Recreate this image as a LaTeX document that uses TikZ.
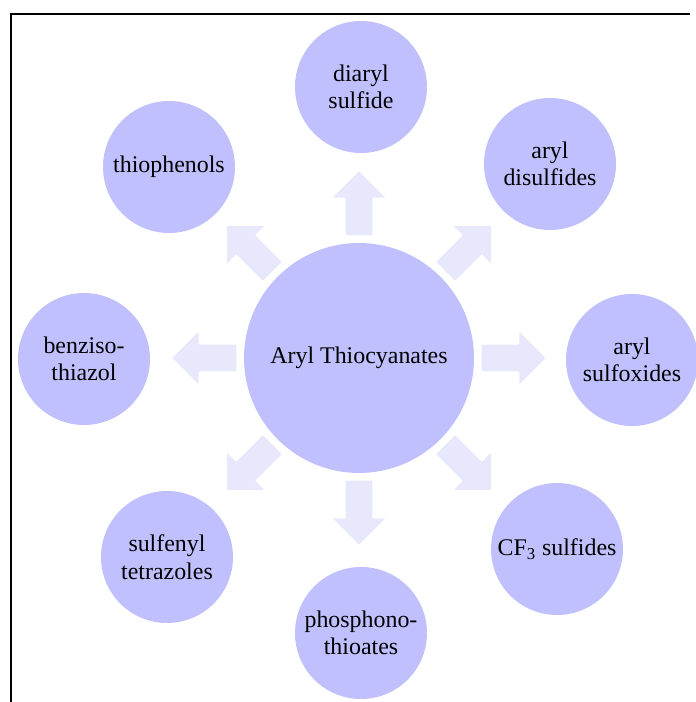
\documentclass[tikz,border=0pt]{standalone}
\usepackage{fontspec}
\setmainfont{Liberation Serif}
\usetikzlibrary{positioning,shapes.arrows}
\definecolor{leafblue}{RGB}{192,192,255}
\definecolor{arrowblue}{RGB}{232,232,252}

\begin{document}
\begin{tikzpicture}[
hub/.style={circle,fill=leafblue,minimum size=4.6cm,inner sep=0pt,align=center,
    font=\fontsize{13.6}{15.6}\selectfont},
leaf/.style={circle,fill=leafblue,minimum size=2.64cm,inner sep=0pt,align=center,
    font=\fontsize{13.6}{15.6}\selectfont},
pointer/.style={single arrow,fill=arrowblue,minimum height=1.28cm,minimum width=1.04cm,
    single arrow head extend=0.26cm,inner xsep=0pt,inner ysep=0.26cm,rounded corners=0.5pt}]
\useasboundingbox (-7.18,-6.88) rectangle (6.72,7.16);
\draw[line width=0.75pt] (6.62,6.88) -- (-6.96,6.88) -- (-6.96,-6.88);

\node (aryl) [hub] at (0,0) {Aryl Thiocyanates};

\node (diaryl) [leaf] at (0.04,5.42) {diaryl\\sulfide};
\node (disulf) [leaf] at (3.82,3.88) {aryl\\disulfides};
\node (sulfox) [leaf] at (5.46,-0.04) {aryl\\sulfoxides};
\node (cfthree) [leaf] at (3.96,-3.82) {CF\textsubscript{3} sulfides};
\node (phos) [leaf] at (0.04,-5.50) {phosphono-\\thioates};
\node (tetra) [leaf] at (-3.84,-3.98) {sulfenyl\\tetrazoles};
\node (benz) [leaf] at (-5.50,-0.02) {benziso-\\thiazol};
\node (phenol) [leaf] at (-3.80,3.82) {thiophenols};

% block arrows from the hub outwards
\foreach \ang/\nm in {90/n,45/ne,0/e,-45/se,-90/s,-135/sw,180/w,135/nw}
  \node (arr-\nm) [pointer,rotate=\ang] at (\ang:2.96) {};
\end{tikzpicture}
\end{document}
